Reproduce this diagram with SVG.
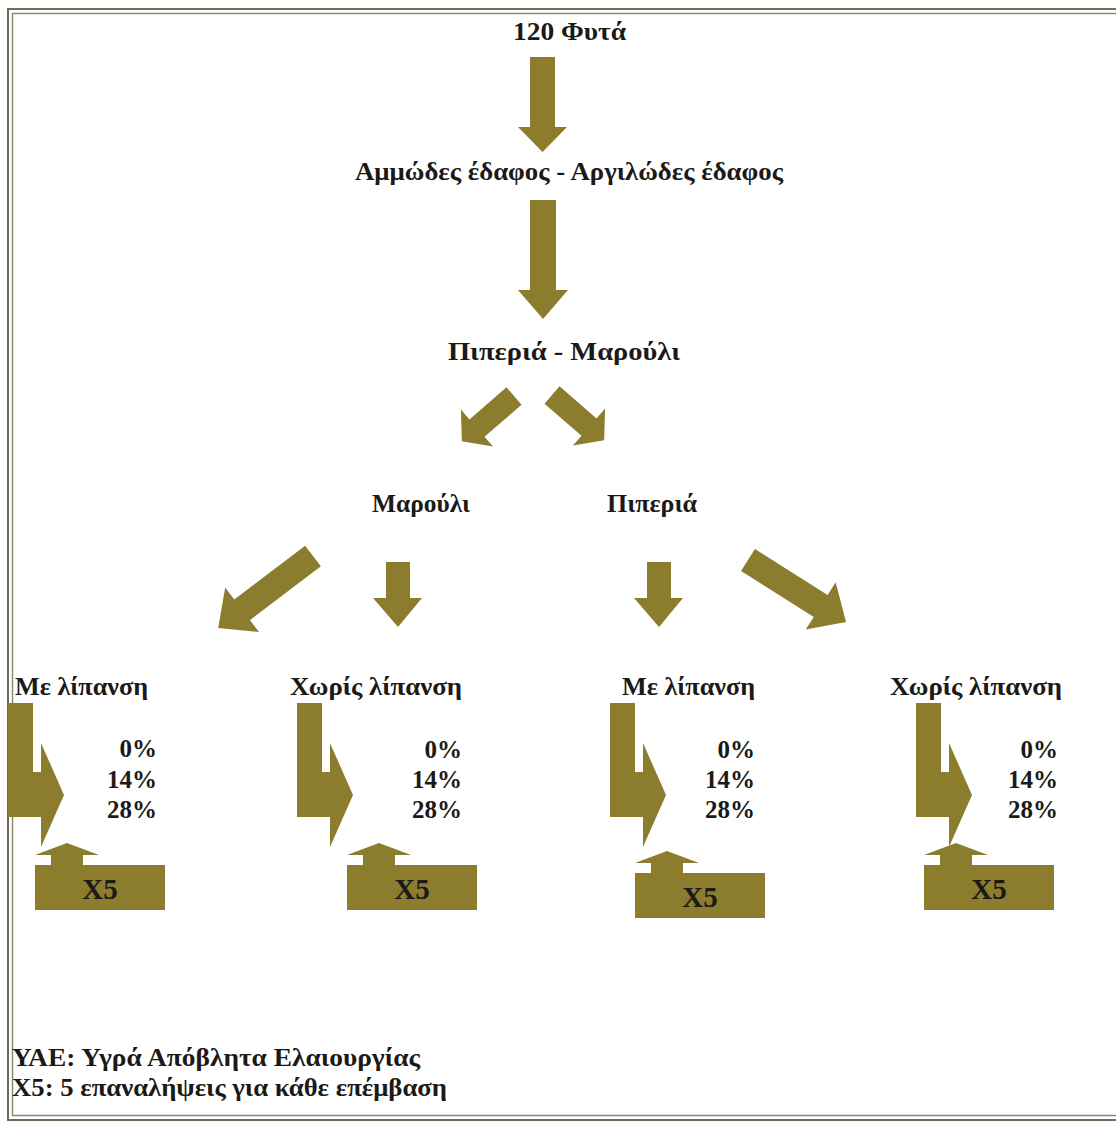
<svg xmlns="http://www.w3.org/2000/svg" width="1116" height="1122" viewBox="0 0 1116 1122">
<style>
.t{font-family:"Liberation Serif","Times New Roman",serif;font-weight:bold;fill:#1c1a17}
.a{fill:#8c7d2e}
.lbl{font-size:26px}
.pct{font-size:25px;text-anchor:end}
.x5{font-size:29px;text-anchor:middle}
.mid{text-anchor:middle}
</style>
<defs>
<path id="dsmall" d="M0,-11.5 L49,-11.5 L49,-24.5 L69,0 L49,24.5 L49,11.5 L0,11.5 Z"/>
<path id="dbig" d="M0,-13 L89,-13 L89,-28 L119,0 L89,28 L89,13 L0,13 Z"/>
<path id="dbigR" d="M0,-13 L86,-13 L86,-28 L116,0 L86,28 L86,13 L0,13 Z"/>
<path id="bent" d="M0,0 L25,0 L25,69 L33,69 L33,40 L56,92 L33,144 L33,114 L0,114 Z"/>
<path id="rep" d="M32,0 L64,12 L48,12 L48,22 L130,22 L130,67 L0,67 L0,22 L16,22 L16,12 L0,12 Z"/>
</defs>
<rect width="1116" height="1122" fill="#ffffff"/>
<g id="frame" fill="none">
<rect x="8" y="9" width="1130" height="1111" stroke="#6f6d5a" stroke-width="2"/>
<rect x="12.5" y="13.5" width="1130" height="1102" stroke="#8b8970" stroke-width="1.5"/>
</g>
<g id="connectors">
<path class="a" d="M530,57 L555,57 L555,127 L567,127 L542.5,152 L518,127 L530,127 Z"/>
<path class="a" d="M530,200 L556,200 L556,290 L568,290 L543,319 L518,290 L530,290 Z"/>
<use href="#dsmall" class="a" transform="translate(514,396) rotate(139.1)"/>
<use href="#dsmall" class="a" transform="translate(552,395) rotate(40.9)"/>
<use href="#dbig" class="a" transform="translate(313,556) rotate(142.8)"/>
<use href="#dbigR" class="a" transform="translate(748,560) rotate(32.3)"/>
<path class="a" d="M386,562 L410,562 L410,598 L422,598 L398,627 L373,598 L386,598 Z"/>
<path class="a" d="M647,562 L671,562 L671,598 L683,598 L659,627 L634,598 L647,598 Z"/>
<use href="#bent" class="a" transform="translate(8,703)"/>
<use href="#bent" class="a" transform="translate(297,703)"/>
<use href="#bent" class="a" transform="translate(610,703)"/>
<use href="#bent" class="a" transform="translate(916,703)"/>
</g>
<g id="n-top"><text class="t lbl mid" x="569.5" y="40" textLength="113" lengthAdjust="spacingAndGlyphs">120 Φυτά</text></g>
<g id="n-soil"><text class="t lbl mid" x="569" y="180" textLength="428" lengthAdjust="spacingAndGlyphs">Αμμώδες έδαφος - Αργιλώδες έδαφος</text></g>
<g id="n-crops"><text class="t lbl mid" x="564" y="360" textLength="232" lengthAdjust="spacingAndGlyphs">Πιπεριά - Μαρούλι</text></g>
<g id="n-lettuce"><text class="t lbl mid" x="421" y="512" textLength="98" lengthAdjust="spacingAndGlyphs">Μαρούλι</text></g>
<g id="n-pepper"><text class="t lbl mid" x="652" y="512" textLength="90" lengthAdjust="spacingAndGlyphs">Πιπεριά</text></g>
<g id="n-g1">
<text class="t lbl" x="15" y="695" textLength="133" lengthAdjust="spacingAndGlyphs">Με λίπανση</text>
<text class="t pct" x="157" y="757">0%</text>
<text class="t pct" x="157" y="788">14%</text>
<text class="t pct" x="157" y="818">28%</text>
<use href="#rep" class="a" transform="translate(35,843)"/>
<text class="t x5" x="100" y="899">X5</text>
</g>
<g id="n-g2">
<text class="t lbl" x="290" y="695" textLength="172" lengthAdjust="spacingAndGlyphs">Χωρίς λίπανση</text>
<text class="t pct" x="462" y="758">0%</text>
<text class="t pct" x="462" y="788">14%</text>
<text class="t pct" x="462" y="818">28%</text>
<use href="#rep" class="a" transform="translate(347,843)"/>
<text class="t x5" x="412" y="899">X5</text>
</g>
<g id="n-g3">
<text class="t lbl" x="622" y="695" textLength="133" lengthAdjust="spacingAndGlyphs">Με λίπανση</text>
<text class="t pct" x="755" y="758">0%</text>
<text class="t pct" x="755" y="788">14%</text>
<text class="t pct" x="755" y="818">28%</text>
<use href="#rep" class="a" transform="translate(635,851)"/>
<text class="t x5" x="700" y="907">X5</text>
</g>
<g id="n-g4">
<text class="t lbl" x="890" y="695" textLength="172" lengthAdjust="spacingAndGlyphs">Χωρίς λίπανση</text>
<text class="t pct" x="1058" y="758">0%</text>
<text class="t pct" x="1058" y="788">14%</text>
<text class="t pct" x="1058" y="818">28%</text>
<use href="#rep" class="a" transform="translate(924,843)"/>
<text class="t x5" x="989" y="899">X5</text>
</g>
<g id="n-legend">
<text class="t lbl" x="12" y="1066" textLength="408" lengthAdjust="spacingAndGlyphs">ΥΑΕ: Υγρά Απόβλητα Ελαιουργίας</text>
<text class="t lbl" x="12" y="1096" textLength="435" lengthAdjust="spacingAndGlyphs">X5: 5 επαναλήψεις για κάθε επέμβαση</text>
</g>
</svg>
